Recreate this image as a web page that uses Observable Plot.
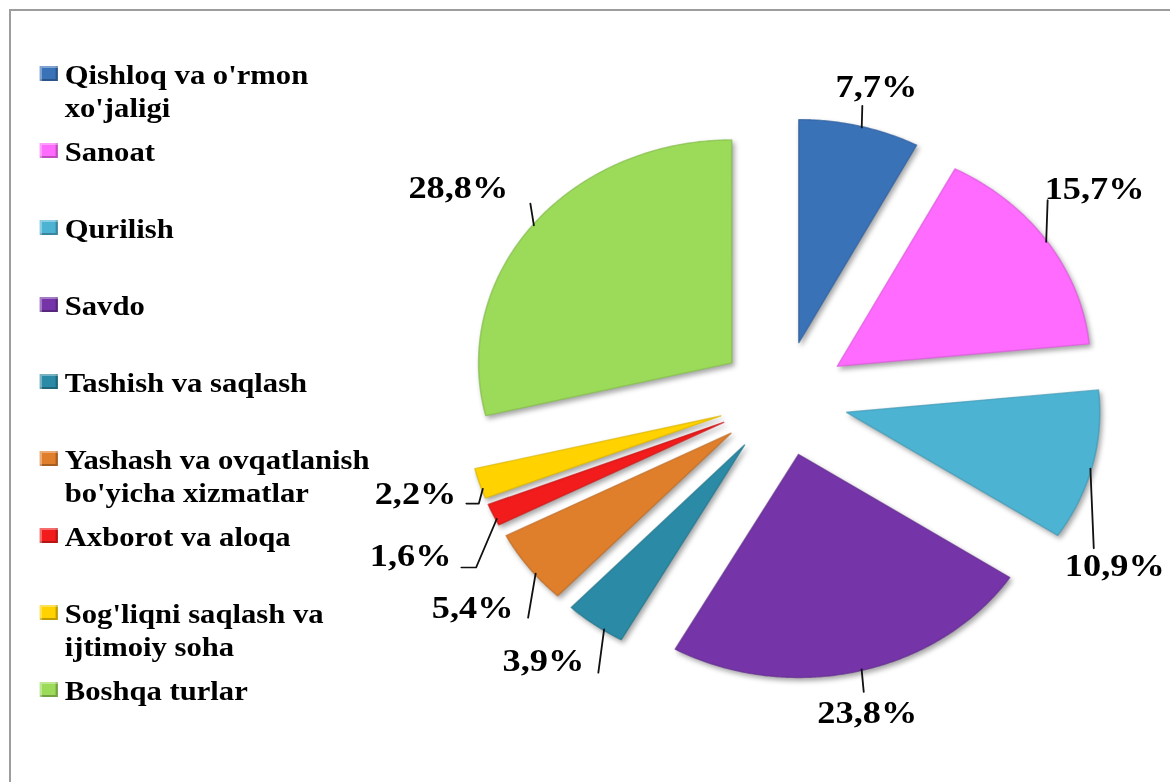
<!DOCTYPE html>
<html><head><meta charset="utf-8">
<script src="https://cdn.jsdelivr.net/npm/d3@7"></script>
<script src="https://cdn.jsdelivr.net/npm/@observablehq/plot@0.6"></script>
<style>
html,body{margin:0;padding:0;background:#fff;width:1170px;height:782px;overflow:hidden;}
#frame{position:absolute;left:9px;top:9px;width:1300px;height:900px;border-left:2px solid #9d9d9d;border-top:2px solid #9d9d9d;}
#wrap{position:absolute;left:0;top:0;width:1031px;height:782px;transform:scaleX(1.135);transform-origin:0 0;}
#chart{position:absolute;left:0;top:0;}
.legend-item{position:absolute;left:35px;width:320px;font-family:"Liberation Serif","Times New Roman",serif;font-weight:bold;font-size:27px;line-height:33px;color:#000;}
.swatch{position:absolute;left:0;top:7px;width:16px;height:15px;}
.ltext{position:absolute;left:22px;top:0;width:285px;}
g[aria-description="slice"] path{filter:drop-shadow(2px 3px 2.5px rgba(0,0,0,0.35));}
</style></head>
<body>
<div id="frame"></div>
<div id="wrap"><div id="legend"></div><div id="chart"></div></div>
<script>
// ---- data ----
const categories = ["Qishloq va o'rmon xo'jaligi", "Sanoat", "Qurilish", "Savdo", "Tashish va saqlash",
  "Yashash va ovqatlanish bo'yicha xizmatlar", "Axborot va aloqa", "Sog'liqni saqlash va ijtimoiy soha", "Boshqa turlar"];
const shares = [7.7, 15.7, 10.9, 23.8, 3.9, 5.4, 1.6, 2.2, 28.8];
const colors = ["#3A72B8", "#FF6AFF", "#4DB3D3", "#7535A8", "#2B8AA5", "#DF7F2C", "#F21C1C", "#FFD200", "#9BDB59"];

// ---- layout (label placement: [angle shift from slice middle, distance]) ----
const labelLayout = [[0.9,322.7],[-3.4,345.5],[16.0,336.9],[0.4,322.7],[2.7,336.5],[-0.3,344.3],[-1.1,363.9],[1.3,337.5],[-1.8,355.4]];
// leader: [start angle shift, end angle, end distance, horizontal tail]
const leaderLayout = [[0.6,13.4,301,0],[0,49.6,306,0],[0.8,118.7,312,0],[-0.8,166.4,302,0],[-2.3,210.7,319,0],[-2.1,225.7,314,0],[-1.3,238.0,319,13],[-1.5,248.6,288,11],[0.1,311.2,296,0]];

const W = 1031, H = 782, CX = 689.5, CY = 398;
const R = 223, EXPLODE = 57.6;
const rad = a => a * Math.PI / 180;
const pol = (a, r, ox = 0, oy = 0) => [ox + r * Math.sin(rad(a)), oy + r * Math.cos(rad(a))];

const total = d3.sum(shares);
let acc = 0;
const slices = shares.map((v, i) => {
  const a0 = acc / total * 360; acc += v; const a1 = acc / total * 360;
  const mid = (a0 + a1) / 2;
  const [ox, oy] = pol(mid, EXPLODE);
  return {i, v, a0, a1, mid, ox, oy};
});

const marks = [];
slices.forEach(s => {
  const pts = [{x: s.ox, y: s.oy}];
  const n = Math.max(4, Math.ceil((s.a1 - s.a0) / 0.5));
  for (let k = 0; k <= n; k++) {
    const [x, y] = pol(s.a0 + (s.a1 - s.a0) * k / n, R, s.ox, s.oy);
    pts.push({x, y});
  }
  const c = colors[s.i];
  marks.push(Plot.line(pts, {x: "x", y: "y", curve: "linear-closed", fill: c,
    stroke: d3.color(c).darker(0.4).formatHex(), strokeWidth: 1.4, strokeOpacity: 0.7, strokeLinejoin: "round",
    ariaDescription: "slice"}));
});

const leaders = [];
slices.forEach(s => {
  const [ds, ea, er, tail] = leaderLayout[s.i];
  const [x0, y0] = pol(s.mid + ds, R - 1, s.ox, s.oy);
  const [x1, y1] = pol(ea, er);
  leaders.push({k: s.i, x: x0, y: y0}, {k: s.i, x: x1, y: y1});
  if (tail) leaders.push({k: s.i, x: x1 - tail, y: y1});
});
marks.push(Plot.line(leaders, {x: "x", y: "y", z: "k", stroke: "#111", strokeWidth: 1.6}));

const fmt = v => v.toFixed(1).replace(".", ",") + "%";
const labels = slices.map(s => {
  const [da, r] = labelLayout[s.i];
  const [x, y] = pol(s.mid + da, r);
  return {x, y, t: fmt(s.v)};
});
marks.push(Plot.text(labels, {x: "x", y: "y", text: "t", fontSize: 32, fontWeight: "bold",
  fontFamily: "'Liberation Serif','Times New Roman',serif", fill: "#000"}));

const plot = Plot.plot({
  width: W, height: H, margin: 0,
  x: {domain: [-CX, W - CX], axis: null},
  y: {domain: [-(H - CY), CY], axis: null},
  style: {background: "transparent", overflow: "visible"},
  marks
});
document.getElementById("chart").appendChild(plot);

// ---- legend ----
const legend = document.getElementById("legend");
categories.forEach((name, i) => {
  const baseline = 85 + 77 * i;
  const item = document.createElement("div");
  item.className = "legend-item";
  item.style.top = (baseline - 25.6) + "px";
  const sw = document.createElement("div");
  sw.className = "swatch";
  sw.style.background = colors[i];
  sw.style.boxShadow = "inset 2px 2px 0 rgba(255,255,255,0.35), inset -2px -2px 0 rgba(0,0,0,0.25)";
  const tx = document.createElement("div");
  tx.className = "ltext";
  tx.textContent = name;
  item.appendChild(sw); item.appendChild(tx);
  legend.appendChild(item);
});
</script>
</body></html>
